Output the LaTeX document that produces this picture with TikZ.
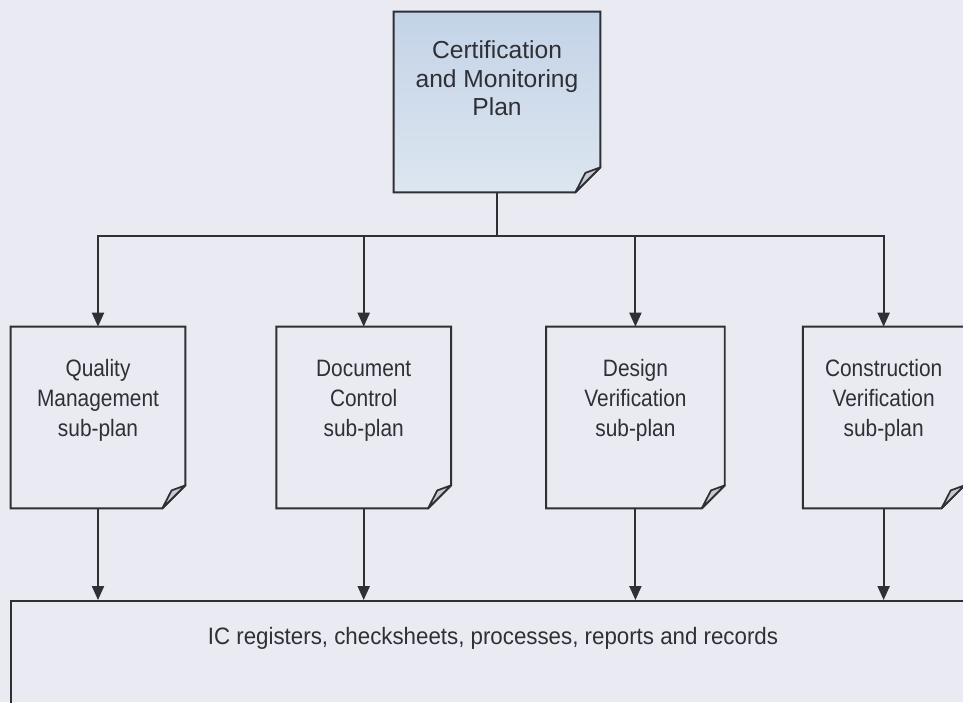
\documentclass[tikz,border=0pt]{standalone}
\usepackage{fontspec}
\setmainfont{Liberation Sans}
\newfontfamily\planfont[FakeStretch=0.88]{Liberation Sans}
\newfontfamily\narrowfont[FakeStretch=0.94]{Liberation Sans}
\usepackage{xcolor}
\usepackage{tikz}
\usetikzlibrary{arrows.meta,positioning}
\pgfdeclarelayer{background}
\pgfsetlayers{background,main}

\definecolor{paper}{HTML}{E9EAF2}
\definecolor{ink}{HTML}{2F3036}
\definecolor{planA}{HTML}{C3D3E7}
\definecolor{planB}{HTML}{DDE6F0}
\definecolor{flapgrey}{HTML}{C8CAD2}

% outline with a folded bottom-right corner: node, fold size, path options
\newcommand\docoutline[3]{%
  \path[#3] (#1.north west) -- (#1.north east) -- ([yshift=#2]#1.south east)
    -- ([xshift=-#2]#1.south east) -- (#1.south west) -- cycle;
  \filldraw[fill=flapgrey,draw=ink,line width=1pt,line join=round]
    ([yshift=#2]#1.south east) -- ([shift={(-0.6*#2,0.78*#2)}]#1.south east)
    -- ([xshift=-#2]#1.south east) -- cycle;
}

\begin{document}
\begin{tikzpicture}[
  x=0.2mm,y=-0.2mm,
  plan/.style={rectangle,align=center,text=ink,font=\planfont\fontsize{13.5}{17}\selectfont,
    minimum width=34.8mm,minimum height=36.2mm,text depth=22pt},
  wire/.style={draw=ink,line width=1.1pt},
  arr/.style={-{Triangle[length=2.8mm,width=2.4mm]},wire}
]
\useasboundingbox (0,0) rectangle (963,702);
\clip (0,0) rectangle (963,702);

\node[plan,minimum width=41.2mm,minimum height=36mm,text depth=27pt,
  font=\fontsize{14}{16.3}\selectfont] (cmp) at (497,102)
  {Certification\\and Monitoring\\Plan};

\node[plan] (qm) at (98,417.5) {Quality\\Management\\sub-plan};
\node[plan,right=18.2mm of qm] (dc) {Document\\Control\\sub-plan};
\node[plan,right=19mm of dc,minimum width=35.6mm] (dv) {Design\\Verification\\sub-plan};
\node[plan,right=15.6mm of dv,minimum width=32.2mm] (cv) {Construction\\Verification\\sub-plan};

\node[plan,draw=ink,line width=1.1pt,minimum width=192.8mm,minimum height=23.8mm,
  text depth=28pt,font=\narrowfont\fontsize{13.5}{17}\selectfont] (reg) at (493,660.5)
  {IC registers, checksheets, processes, reports and records};

\begin{pgfonlayer}{background}
\fill[paper] (0,0) rectangle (963,702);
\docoutline{cmp}{5mm}{top color=planA,bottom color=planB,wire}
\docoutline{qm}{4.6mm}{wire}
\docoutline{dc}{4.6mm}{wire}
\docoutline{dv}{4.6mm}{wire}
\docoutline{cv}{4.6mm}{wire}
\end{pgfonlayer}

\coordinate (bus) at (cmp.south |- 0,236);
\draw[wire] (cmp.south) -- (bus);
\draw[arr] (bus) -| (qm.north);
\draw[arr] (bus) -| (dc.north);
\draw[arr] (bus) -| (dv.north);
\draw[arr] (bus) -| (cv.north);

\draw[arr] (qm.south) -- (qm.south |- reg.north);
\draw[arr] (dc.south) -- (dc.south |- reg.north);
\draw[arr] (dv.south) -- (dv.south |- reg.north);
\draw[arr] (cv.south) -- (cv.south |- reg.north);
\end{tikzpicture}
\end{document}
